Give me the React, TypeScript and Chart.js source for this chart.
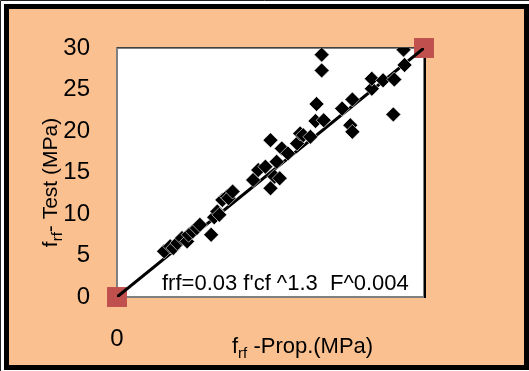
import React, { useEffect, useRef } from 'react';
import { Chart, registerables } from 'chart.js';

Chart.register(...registerables);

// Measured data (proposed vs test), MPa
const PROP_X = [
  4.6, 5.2, 5.5, 5.9, 6.35, 6.85, 7.0, 7.4, 7.8, 8.1, 9.2, 9.5, 9.8, 10.0, 10.3, 10.75, 10.9, 11.3,
  13.3, 13.8, 14.5, 15.0, 15.4, 15.9, 15.6, 15.0, 16.1, 16.7, 17.6, 17.9,
  18.2, 18.9, 19.4, 20.2, 19.5, 20.0, 20.0, 22.0, 22.8, 23.0, 23.0, 24.9, 24.9, 26.0, 27.1, 27.0, 28.0, 28.1,
];
const TEST_Y = [
  5.5, 6.1, 5.9, 6.5, 7.1, 6.7, 7.5, 7.9, 8.3, 8.7, 7.5, 9.6, 10.3, 9.9, 11.7, 12.1, 11.9, 12.7,
  14.1, 15.3, 15.7, 13.1, 14.5, 14.3, 16.3, 18.9, 17.9, 17.3, 18.5, 19.7,
  19.5, 19.3, 21.2, 21.3, 23.25, 27.3, 29.2, 22.7, 20.7, 19.9, 23.8, 25.1, 26.3, 26.1, 26.2, 22.0, 29.8, 27.95,
];

// Fitted line / end markers
const FIT_X = [0, 30];
const FIT_Y = [0, 30];

// Axis settings
const AXIS_MIN = 0;
const AXIS_MAX = 30;
const Y_STEP = 5;
const X_TICK_LABELS = ['0'];

// Texts
const Y_TITLE = ['f', 'rf', '- Test (MPa)'];
const X_TITLE = ['f', 'rf', ' -Prop.(MPa)'];
const EQUATION = "frf=0.03 f'cf ^1.3  F^0.004";

const FONT = "'Liberation Sans', Arial, sans-serif";
const ORANGE = '#FAC090';
const RED = '#C0504D';

function drawSubText(ctx: CanvasRenderingContext2D, parts: string[], size: number, subSize: number, subDy: number) {
  const widths: number[] = [];
  parts.forEach((p, i) => {
    ctx.font = `${i === 1 ? subSize : size}px ${FONT}`;
    widths.push(ctx.measureText(p).width);
  });
  return {
    total: widths.reduce((a, b) => a + b, 0),
    draw: (x0: number, y0: number) => {
      let x = x0;
      parts.forEach((p, i) => {
        ctx.font = `${i === 1 ? subSize : size}px ${FONT}`;
        ctx.fillText(p, x, y0 + (i === 1 ? subDy : 0));
        x += widths[i];
      });
    },
  };
}

const decorPlugin = {
  id: 'decor',
  beforeDraw(chart: any) {
    const ctx = chart.ctx as CanvasRenderingContext2D;
    const { width, height, chartArea } = chart;
    ctx.save();
    ctx.fillStyle = '#ffffff';
    ctx.fillRect(0, 0, width, height);
    ctx.strokeStyle = '#222';
    ctx.lineWidth = 1;
    ctx.beginPath();
    ctx.moveTo(0.5, height);
    ctx.lineTo(0.5, 0.5);
    ctx.lineTo(width, 0.5);
    ctx.stroke();
    ctx.fillStyle = '#000';
    ctx.fillRect(4, 4, width - 4, height - 5);
    ctx.fillStyle = ORANGE;
    ctx.fillRect(9, 9, width - 14, height - 15);
    ctx.fillStyle = '#fff';
    ctx.fillRect(chartArea.left, chartArea.top, chartArea.right - chartArea.left, chartArea.bottom - chartArea.top);
    ctx.restore();
  },
  beforeDatasetsDraw(chart: any) {
    const ctx = chart.ctx as CanvasRenderingContext2D;
    const { left, right, top, bottom } = chart.chartArea;
    ctx.save();
    ctx.strokeStyle = '#808080';
    ctx.lineWidth = 2;
    ctx.strokeRect(left, top, right - left, bottom - top);
    ctx.strokeStyle = '#404040';
    ctx.lineWidth = 1;
    ctx.beginPath();
    ctx.moveTo(left, top - 0.5);
    ctx.lineTo(right, top - 0.5);
    ctx.stroke();
    ctx.strokeStyle = '#000';
    ctx.lineWidth = 2;
    ctx.beginPath();
    ctx.moveTo(right + 1, top);
    ctx.lineTo(right + 1, bottom + 1);
    ctx.stroke();
    ctx.restore();
  },
  afterDraw(chart: any) {
    const ctx = chart.ctx as CanvasRenderingContext2D;
    const { top, bottom, left } = chart.chartArea;
    ctx.save();
    ctx.fillStyle = '#000';
    ctx.textBaseline = 'alphabetic';
    ctx.textAlign = 'left';
    // equation
    ctx.font = `22px ${FONT}`;
    ctx.fillText(EQUATION, left + 45, bottom - 7);
    // x title
    const xt = drawSubText(ctx, X_TITLE, 22, 15, 5);
    xt.draw(232, 353);
    // y title (rotated)
    const yt = drawSubText(ctx, Y_TITLE, 21, 15, 5);
    ctx.translate(57, (top + bottom) / 2 + 10);
    ctx.rotate(-Math.PI / 2);
    yt.draw(-yt.total / 2, 0);
    ctx.restore();
  },
};

export default function App() {
  const ref = useRef<HTMLCanvasElement | null>(null);
  useEffect(() => {
    document.body.style.margin = '0';
    const canvas = ref.current!;
    const tickFont = { family: FONT, size: 24 };
    const chart = new Chart(canvas, {
      type: 'scatter',
      data: {
        datasets: [
          {
            type: 'line',
            label: 'fit',
            data: FIT_X.map((x, i) => ({ x, y: FIT_Y[i] })),
            borderColor: '#000',
            borderWidth: 3,
            pointRadius: 0,
            order: 1,
          } as any,
          {
            label: 'data',
            data: PROP_X.map((x, i) => ({ x, y: TEST_Y[i] })),
            pointStyle: 'rectRot',
            pointRadius: 7.5,
            backgroundColor: '#000',
            borderColor: '#fff',
            borderWidth: 0.6,
            order: 0,
          },
          {
            label: 'ends',
            data: FIT_X.map((x, i) => ({ x, y: FIT_Y[i] })),
            pointStyle: 'rect',
            pointRadius: 14.1,
            backgroundColor: RED,
            borderWidth: 0,
            clip: false,
            order: 3,
          } as any,
        ],
      },
      options: {
        responsive: false,
        animation: false,
        layout: { padding: { left: 0, right: 105, top: 48, bottom: 0 } },
        plugins: { legend: { display: false }, tooltip: { enabled: false } },
        scales: {
          x: {
            type: 'linear',
            min: AXIS_MIN,
            max: AXIS_MAX,
            afterFit: (s: any) => { s.height = 74; },
            grid: { display: false, drawTicks: false },
            border: { display: false },
            ticks: {
              stepSize: AXIS_MAX,
              autoSkip: false,
              maxRotation: 0,
              padding: 28,
              color: '#000',
              font: tickFont,
              callback: (v: any) => (v === 0 ? X_TICK_LABELS[0] : ''),
            },
          },
          y: {
            type: 'linear',
            min: AXIS_MIN,
            max: AXIS_MAX,
            afterFit: (s: any) => { s.width = 117; },
            grid: { display: false, drawTicks: false },
            border: { display: false },
            ticks: { stepSize: Y_STEP, padding: 27, color: '#000', font: tickFont },
          },
        },
      },
      plugins: [decorPlugin],
    });
    return () => chart.destroy();
  }, []);
  return (
    <div style={{ position: 'absolute', left: 0, top: 0, width: 529, height: 371 }}>
      <canvas ref={ref} width={529} height={371} style={{ display: 'block' }} />
    </div>
  );
}
